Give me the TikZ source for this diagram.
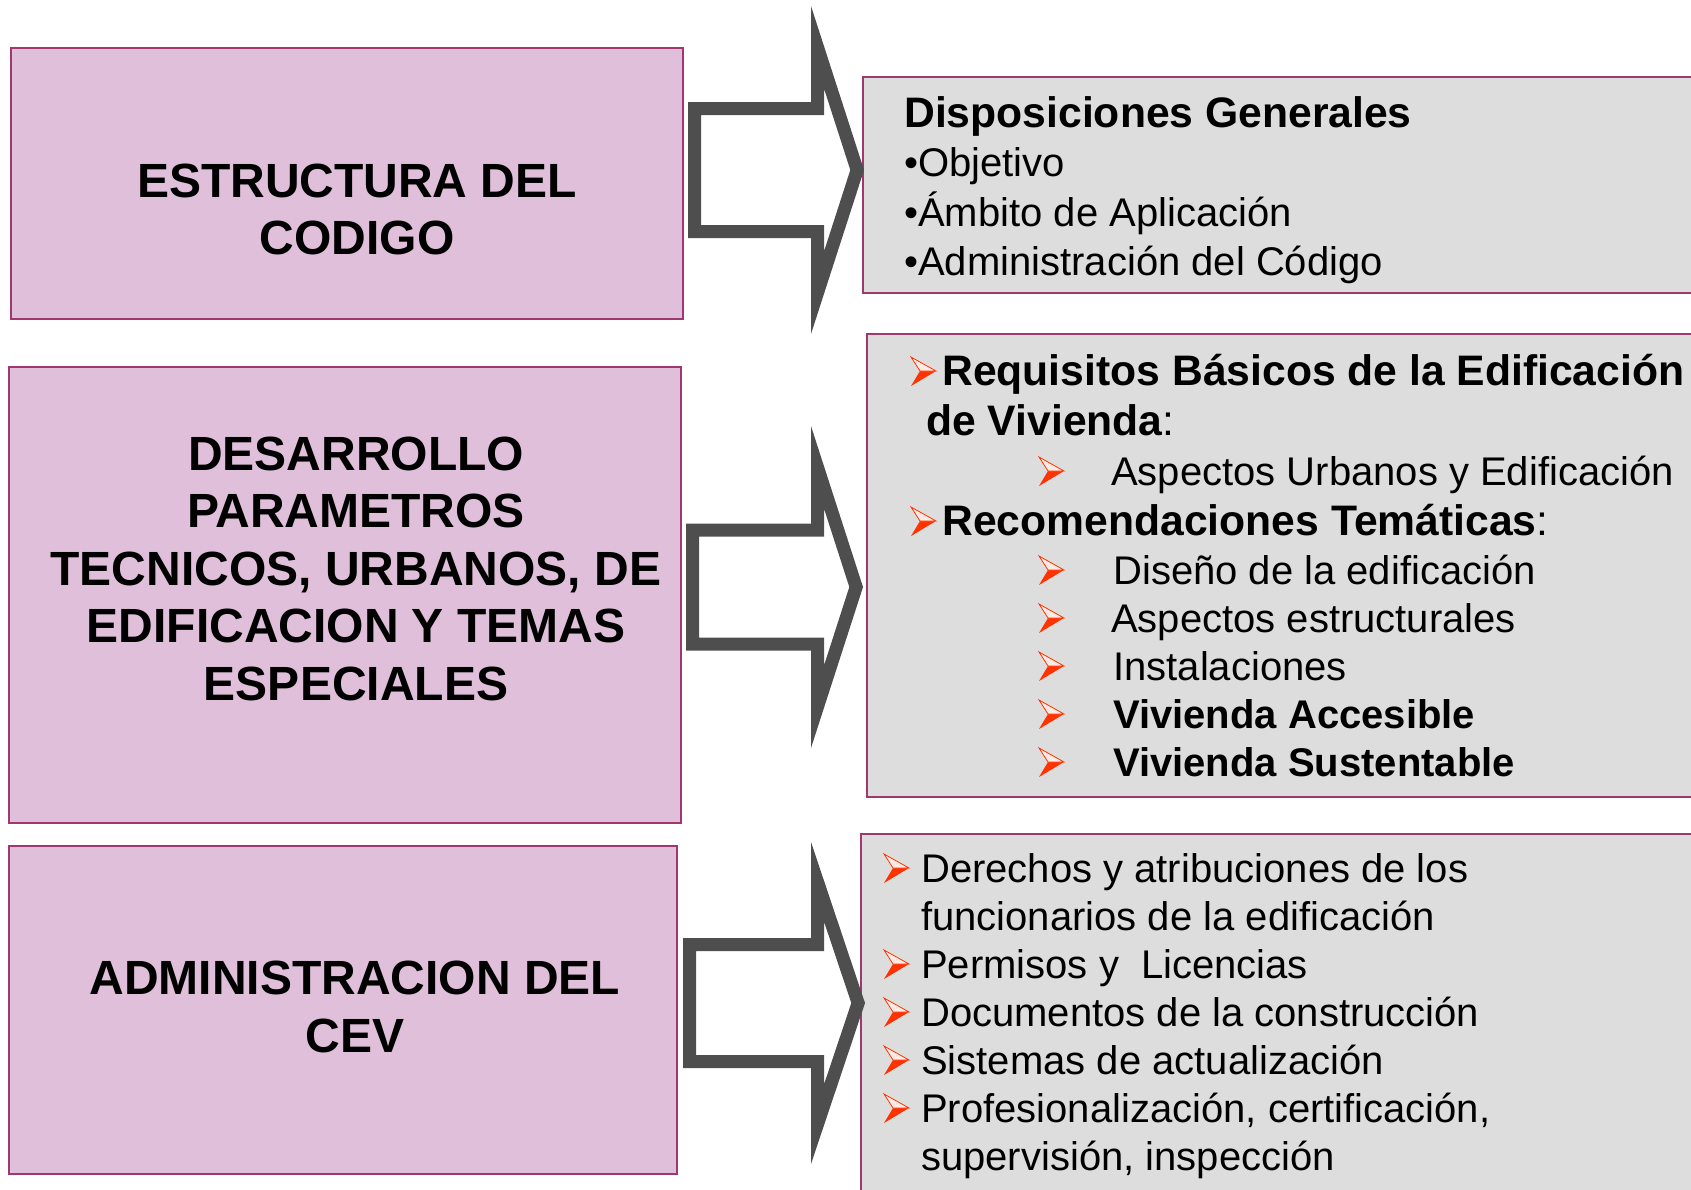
\documentclass[tikz,border=0pt]{standalone}
\usepackage{fontspec}
\setmainfont{Liberation Sans}

\definecolor{boxpink}{RGB}{223,191,217}
\definecolor{boxgrey}{RGB}{221,221,221}
\definecolor{boxborder}{RGB}{160,55,110}
\definecolor{arrowgrey}{RGB}{78,78,78}
\definecolor{bulletred}{RGB}{255,51,0}

\tikzset{
  pinkbox/.style={draw=boxborder, fill=boxpink, line width=2.2pt},
  greybox/.style={draw=boxborder, fill=boxgrey, line width=2.2pt},
  bigarrow/.style={fill=arrowgrey, even odd rule},
  lefttext/.style={anchor=base, inner sep=0pt, font=\fontsize{36}{43}\selectfont\bfseries},
  headtext/.style={anchor=base west, inner sep=0pt, font=\fontsize{32}{38}\selectfont},
  itemtext/.style={anchor=base west, inner sep=0pt, font=\fontsize{30}{36}\selectfont}
}

% arrow bullet, #1 = left x, #2 = baseline y
\newcommand{\bulletarrow}[2]{%
  \fill[bulletred] (#1,{#2+1}) -- ({#1+9},{#2-14}) -- ({#1+25},{#2-14}) -- cycle;
  \filldraw[draw=bulletred, fill=bulletred!10, line width=0.6pt] (#1,{#2-28}) -- ({#1+25},{#2-14}) -- ({#1+9},{#2-14}) -- cycle;
}

\begin{document}
\begin{tikzpicture}[x=0.75pt,y=0.75pt,yscale=-1,xscale=1]
\useasboundingbox (0,0) rectangle (1691,1189);

%Shape: left boxes
\draw[pinkbox] (11,48) rectangle (683,319);
\draw[pinkbox] (9,367) rectangle (681,823);
\draw[pinkbox] (9,846) rectangle (677,1174);
%Shape: right boxes
\draw[greybox] (863,77) rectangle (1710,293);
\draw[greybox] (867,334) rectangle (1710,797);
\draw[greybox] (861,834) rectangle (1710,1210);

%Shape: block arrows
\fill[bigarrow] (688,102) -- (811,102) -- (811,6) -- (864,170) -- (811,334) -- (811,238) -- (688,238) -- cycle
  (701,115) -- (824,115) -- (824,88.5) -- (850.3,170) -- (824,251.5) -- (824,225) -- (701,225) -- cycle ;
\fill[bigarrow] (686,523.5) -- (811,523.5) -- (811,426) -- (863,587) -- (811,748) -- (811,650.5) -- (686,650.5) -- cycle
  (699,536.5) -- (824,536.5) -- (824,508.5) -- (849.3,587) -- (824,665.5) -- (824,637.5) -- (699,637.5) -- cycle ;
\fill[bigarrow] (683,938) -- (811,938) -- (811,842) -- (865,1003) -- (811,1164) -- (811,1068) -- (683,1068) -- cycle
  (696,951) -- (824,951) -- (824,921.6) -- (851.3,1003) -- (824,1084.4) -- (824,1055) -- (696,1055) -- cycle ;

% Text Node
\node[lefttext] (estA) at (357,197) {ESTRUCTURA DEL};
% Text Node
\node[lefttext] (estB) at (357,254) {CODIGO};
% Text Node
\node[lefttext] (desA) at (356,470) {DESARROLLO};
% Text Node
\node[lefttext] (desB) at (356,527.5) {PARAMETROS};
% Text Node
\node[lefttext] (desC) at (356,585) {TECNICOS, URBANOS, DE};
% Text Node
\node[lefttext] (desD) at (356,642.5) {EDIFICACION Y TEMAS};
% Text Node
\node[lefttext] (desE) at (356,700) {ESPECIALES};
% Text Node
\node[lefttext] (admA) at (355,994) {ADMINISTRACION DEL};
% Text Node
\node[lefttext] (admB) at (355,1052) {CEV};

% Text Node
\node[headtext] (disp) at (904,127) {\bfseries Disposiciones Generales};
% Text Node
\node[itemtext] (obj) at (904,176.5) {•Objetivo};
% Text Node
\node[itemtext] (amb) at (904,226) {•Ámbito de Aplicación};
% Text Node
\node[itemtext] (adc) at (904,275) {•Administración del Código};

% Text Node
\bulletarrow{911}{385}
\node[headtext] (req) at (942,385) {\bfseries Requisitos Básicos de la Edificación};
% Text Node
\node[headtext] (viv) at (926,435) {{\bfseries de Vivienda}:};
% Text Node
\bulletarrow{1039}{485}
\node[itemtext] (urb) at (1111,485) {Aspectos Urbanos y Edificación};
% Text Node
\bulletarrow{911}{535}
\node[headtext] (rec) at (942,535) {{\bfseries Recomendaciones Temáticas}:};
% Text Node
\bulletarrow{1039}{584}
\node[itemtext] (dis) at (1113,584) {Diseño de la edificación};
% Text Node
\bulletarrow{1039}{632}
\node[itemtext] (aes) at (1111,632) {Aspectos estructurales};
% Text Node
\bulletarrow{1039}{680}
\node[itemtext] (ins) at (1113,680) {Instalaciones};
% Text Node
\bulletarrow{1039}{728}
\node[itemtext] (acc) at (1113,728) {\bfseries Vivienda Accesible};
% Text Node
\bulletarrow{1039}{776}
\node[itemtext] (sus) at (1113,776) {\bfseries Vivienda Sustentable};

% Text Node
\bulletarrow{884}{882}
\node[itemtext] (der) at (921,882) {Derechos y atribuciones de los};
% Text Node
\node[itemtext] (fun) at (921,930) {funcionarios de la edificación};
% Text Node
\bulletarrow{884}{978}
\node[itemtext] (per) at (921,978) {Permisos y\ \ Licencias};
% Text Node
\bulletarrow{884}{1026}
\node[itemtext] (doc) at (921,1026) {Documentos de la construcción};
% Text Node
\bulletarrow{884}{1074}
\node[itemtext] (sis) at (921,1074) {Sistemas de actualización};
% Text Node
\bulletarrow{884}{1122}
\node[itemtext] (pro) at (921,1122) {Profesionalización, certificación,};
% Text Node
\node[itemtext] (sup) at (921,1170) {supervisión, inspección};

\end{tikzpicture}
\end{document}
